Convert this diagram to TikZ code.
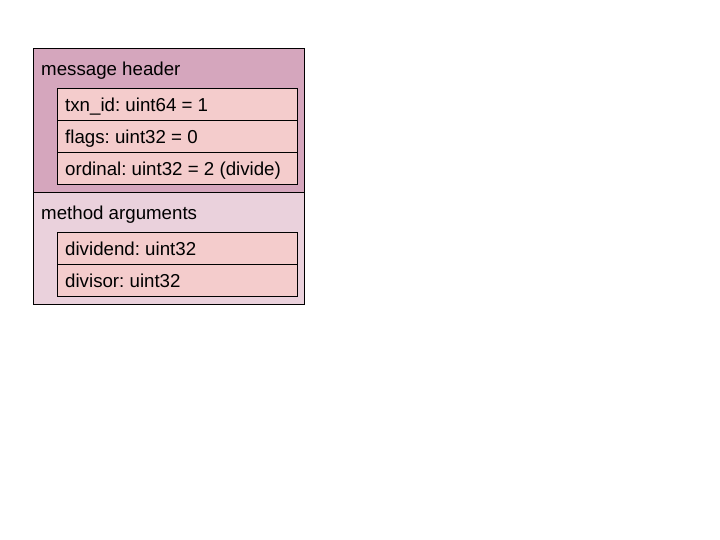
\documentclass[tikz,border=0pt]{standalone}
\usepackage{fontspec}
\setmainfont{Liberation Sans}
\frenchspacing
\definecolor{hdr}{HTML}{D5A6BD}
\definecolor{args}{HTML}{EAD1DC}
\definecolor{fld}{HTML}{F4CCCC}
\begin{document}
\begin{tikzpicture}[x=1pt,y=-1pt,
  sect/.style={draw=black,line width=0.9pt,anchor=north west,inner sep=0pt,minimum width=271pt},
  field/.style={draw=black,line width=0.9pt,fill=fld,anchor=north west,inner sep=0pt,minimum width=240pt,minimum height=32pt},
  lbl/.style={anchor=base west,inner sep=0pt,font=\fontsize{18.7}{22}\selectfont}]
\useasboundingbox (0,0) rectangle (720,540);
\node[sect,fill=hdr,minimum height=144pt] (header) at (33,48) {};
\node[sect,fill=args,minimum height=112pt] (argsbox) at (33,192) {};
\node[lbl] (hl) at (41,76) {message header};
\node[field] (f1) at (56.5,88) {};
\node[field] (f2) at (56.5,120) {};
\node[field] (f3) at (56.5,152) {};
\node[lbl] (t1) at (65,112) {txn\_id: uint64 = 1};
\node[lbl] (t2) at (65,144) {flags: uint32 = 0};
\node[lbl] (t3) at (65,176) {ordinal: uint32 = 2 (divide)};
\node[lbl] (al) at (41,219) {method arguments};
\node[field] (a1) at (56.5,232) {};
\node[field] (a2) at (56.5,264) {};
\node[lbl] (t4) at (65,255) {dividend: uint32};
\node[lbl] (t5) at (65,287) {divisor: uint32};
\end{tikzpicture}
\end{document}
